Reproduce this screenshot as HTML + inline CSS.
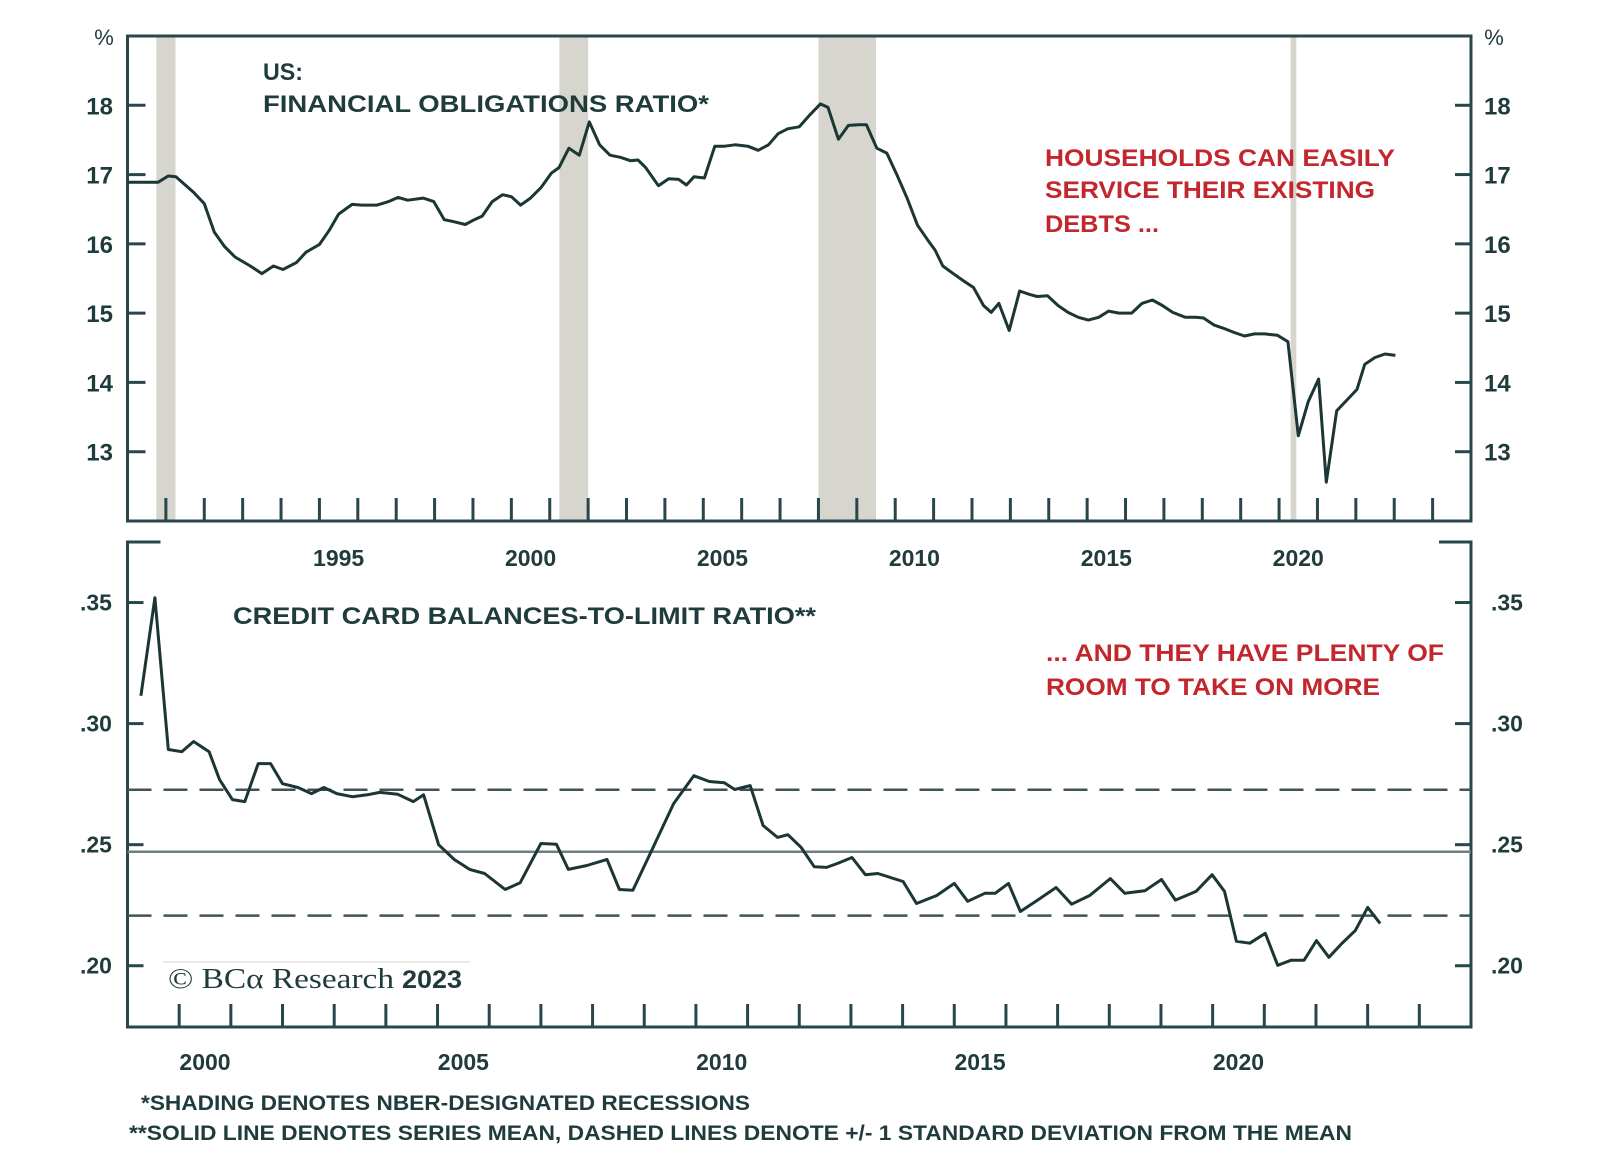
<!DOCTYPE html>
<html><head><meta charset="utf-8"><style>
html,body{margin:0;padding:0;background:#fff;}
svg{display:block;}
text{font-family:"Liberation Sans",sans-serif;font-weight:bold;fill:#1f3b3b;}
.red{fill:#c2272d;}
</style></head><body>
<svg id="chart" width="1600" height="1165" viewBox="0 0 1600 1165" xmlns="http://www.w3.org/2000/svg">
<g id="topPanel"></g>
<g id="botPanel"></g>
<text x="263" y="80" font-size="24" textLength="40" lengthAdjust="spacingAndGlyphs">US:</text>
<text x="263" y="112" font-size="24" textLength="446" lengthAdjust="spacingAndGlyphs">FINANCIAL OBLIGATIONS RATIO*</text>
<text class="red" x="1045" y="166" font-size="24" textLength="350" lengthAdjust="spacingAndGlyphs">HOUSEHOLDS CAN EASILY</text>
<text class="red" x="1045" y="198" font-size="24" textLength="330" lengthAdjust="spacingAndGlyphs">SERVICE THEIR EXISTING</text>
<text class="red" x="1045" y="232" font-size="24" textLength="114" lengthAdjust="spacingAndGlyphs">DEBTS ...</text>
<text x="233" y="624" font-size="24" textLength="583" lengthAdjust="spacingAndGlyphs">CREDIT CARD BALANCES-TO-LIMIT RATIO**</text>
<text class="red" x="1046" y="661" font-size="24" textLength="398" lengthAdjust="spacingAndGlyphs">... AND THEY HAVE PLENTY OF</text>
<text class="red" x="1046" y="695" font-size="24" textLength="334" lengthAdjust="spacingAndGlyphs">ROOM TO TAKE ON MORE</text>
<line x1="163" y1="962" x2="470" y2="962" stroke="#e4e4e4" stroke-width="1.5"/>
<text x="168" y="988" font-size="29" style="font-family:'Liberation Serif',serif;font-weight:normal" textLength="226" lengthAdjust="spacingAndGlyphs">© BCα Research</text>
<text x="402" y="988" font-size="25" textLength="60" lengthAdjust="spacingAndGlyphs">2023</text>
<text x="141" y="1110" font-size="21" textLength="609" lengthAdjust="spacingAndGlyphs">*SHADING DENOTES NBER-DESIGNATED RECESSIONS</text>
<text x="129" y="1140" font-size="21" textLength="1223" lengthAdjust="spacingAndGlyphs">**SOLID LINE DENOTES SERIES MEAN, DASHED LINES DENOTE +/- 1 STANDARD DEVIATION FROM THE MEAN</text>
</svg>
<script>
// ---- top panel data ----
const forTimes=[1990.0,1990.8,1991.06,1991.26,1991.73,1992.0,1992.26,1992.53,1992.8,1993.2,1993.5,1993.8,1994.05,1994.4,1994.65,1995.0,1995.25,1995.5,1995.85,1996.1,1996.5,1996.8,1997.05,1997.3,1997.7,1997.98,1998.25,1998.5,1998.8,1999.04,1999.24,1999.5,1999.77,2000.0,2000.24,2000.5,2000.77,2001.04,2001.24,2001.5,2001.77,2002.03,2002.3,2002.57,2002.84,2003.1,2003.3,2003.5,2003.83,2004.1,2004.36,2004.56,2004.76,2005.03,2005.3,2005.56,2005.83,2006.16,2006.43,2006.7,2006.95,2007.2,2007.5,2007.79,2008.05,2008.25,2008.52,2008.78,2009.05,2009.25,2009.52,2009.78,2010.05,2010.31,2010.58,2010.84,2011.04,2011.24,2011.51,2011.77,2012.04,2012.3,2012.5,2012.7,2012.97,2013.24,2013.5,2013.7,2013.97,2014.24,2014.5,2014.77,2015.03,2015.3,2015.56,2015.83,2016.16,2016.43,2016.7,2016.96,2017.23,2017.56,2017.83,2018.03,2018.3,2018.56,2018.83,2019.1,2019.36,2019.63,2019.96,2020.23,2020.5,2020.76,2021.03,2021.23,2021.5,2021.76,2022.03,2022.23,2022.5,2022.76,2023.03];
const forValues=[16.89,16.89,16.98,16.97,16.74,16.58,16.17,15.96,15.81,15.68,15.57,15.68,15.63,15.73,15.88,15.99,16.19,16.43,16.57,16.56,16.56,16.61,16.67,16.63,16.66,16.61,16.35,16.32,16.28,16.35,16.40,16.61,16.71,16.68,16.56,16.66,16.81,17.02,17.10,17.38,17.28,17.76,17.43,17.28,17.25,17.20,17.21,17.10,16.84,16.94,16.93,16.85,16.97,16.95,17.41,17.41,17.43,17.41,17.35,17.43,17.59,17.66,17.69,17.87,18.02,17.97,17.51,17.71,17.72,17.72,17.38,17.31,16.99,16.66,16.27,16.06,15.91,15.68,15.57,15.47,15.37,15.11,15.01,15.14,14.75,15.32,15.27,15.24,15.25,15.11,15.01,14.94,14.90,14.94,15.03,15.00,15.00,15.14,15.19,15.11,15.01,14.94,14.94,14.93,14.83,14.78,14.72,14.67,14.70,14.70,14.68,14.59,13.23,13.72,14.05,12.56,13.59,13.74,13.90,14.26,14.36,14.41,14.39];
const recStart=[1990.75,2001.25,2008.0,2020.3];
const recEnd=[1991.25,2002.0,2009.5,2020.45];
const topYTicks=[13,14,15,16,17,18];
const topYearLabels=[1995,2000,2005,2010,2015,2020];
// ---- bottom panel data ----
const ccTimes=[1999.26,1999.53,1999.79,2000.05,2000.28,2000.58,2000.78,2001.03,2001.27,2001.53,2001.77,2002.0,2002.3,2002.56,2002.8,2003.05,2003.35,2003.64,2003.88,2004.23,2004.53,2004.73,2005.02,2005.32,2005.62,2005.91,2006.31,2006.6,2007.0,2007.3,2007.53,2007.89,2008.28,2008.52,2008.78,2009.17,2009.57,2009.96,2010.26,2010.55,2010.75,2011.05,2011.3,2011.58,2011.78,2012.04,2012.29,2012.53,2012.73,2013.02,2013.28,2013.52,2014.01,2014.27,2014.66,2015.0,2015.26,2015.59,2015.79,2016.05,2016.28,2016.58,2016.97,2017.27,2017.62,2018.02,2018.3,2018.69,2019.01,2019.28,2019.68,2019.99,2020.23,2020.46,2020.72,2021.02,2021.26,2021.52,2021.77,2022.01,2022.25,2022.5,2022.76,2023.0,2023.24];
const ccValues=[0.3115,0.352,0.2893,0.2884,0.2926,0.2884,0.2769,0.2686,0.2678,0.2835,0.2835,0.2752,0.2736,0.2711,0.2736,0.2711,0.2698,0.2706,0.2716,0.2708,0.2678,0.2706,0.25,0.2439,0.2398,0.2381,0.2315,0.2343,0.2505,0.2502,0.2398,0.2414,0.2439,0.2315,0.2312,0.2488,0.2670,0.2785,0.2761,0.2756,0.2728,0.2744,0.2579,0.2530,0.2541,0.2488,0.2409,0.2406,0.2422,0.2447,0.2376,0.2381,0.2348,0.2257,0.2290,0.2340,0.2266,0.2299,0.2299,0.2340,0.2224,0.2266,0.2323,0.2254,0.2290,0.2360,0.2299,0.2310,0.2356,0.2271,0.2307,0.2376,0.2307,0.2101,0.2093,0.2134,0.2002,0.2023,0.2023,0.2104,0.2035,0.2092,0.2145,0.2241,0.2175];
const ccMean=[0.2471];
const ccBands=[0.2727,0.2207];
const botYTicks=[0.20,0.25,0.30,0.35];
const botYTickLabels=['.20','.25','.30','.35'];
const botYearLabels=[2000,2005,2010,2015,2020];

const NS='http://www.w3.org/2000/svg';
const AX='#28474a', LINE='#1c3535';
function mk(parent,tag,attrs,txt){const e=document.createElementNS(NS,tag);for(const k in attrs)e.setAttribute(k,attrs[k]);if(txt!==undefined)e.textContent=txt;parent.appendChild(e);return e;}
const L=127.5,R=1471;
const tx=t=>L+(t-1990)*(R-L)/35;
const T0=36,T1=521;
const ty=v=>T0+(19-v)*(T1-T0)/7;
const bx=t=>L+(t-1999)*(R-L)/26;
const B0=542,B1=1027;
const by=v=>B1-(v-0.1747)*(B1-B0)/(0.375-0.1747);

const topG=document.getElementById('topPanel');
for(let i=0;i<recStart.length;i++){
  const r=mk(topG,'rect',{x:tx(recStart[i]),y:T0,width:tx(recEnd[i])-tx(recStart[i]),height:T1-T0,fill:'#d6d6ce'});
  
  
}
const fr=mk(topG,'rect',{x:L,y:T0,width:R-L,height:T1-T0,fill:'none',stroke:AX,'stroke-width':3});


for(const v of topYTicks){
  const y=ty(v);
  mk(topG,'line',{x1:L,y1:y,x2:L+18,y2:y,stroke:AX,'stroke-width':3});
  mk(topG,'line',{x1:R-16,y1:y,x2:R,y2:y,stroke:AX,'stroke-width':3});
  const a=mk(topG,'text',{x:113,y:y+9,'font-size':24,'text-anchor':'end'},String(v));
  
  
  const b=mk(topG,'text',{x:1484,y:y+9,'font-size':24},String(v));
  
  
}
const p1=mk(topG,'text',{x:104,y:45,'font-size':22,'text-anchor':'middle',style:'font-weight:normal'},'%');


const p2=mk(topG,'text',{x:1494,y:45,'font-size':22,'text-anchor':'middle',style:'font-weight:normal'},'%');


for(let yr=1991;yr<=2024;yr++){
  mk(topG,'line',{x1:tx(yr),y1:T1,x2:tx(yr),y2:T1-23,stroke:AX,'stroke-width':3});
}
for(const yr of topYearLabels){
  const t=mk(topG,'text',{x:tx(yr+0.5),y:566,'font-size':23,'text-anchor':'middle'},String(yr));
  
  
}
const fl=mk(topG,'polyline',{points:forTimes.map((t,i)=>tx(t).toFixed(1)+','+ty(forValues[i]).toFixed(1)).join(' '),fill:'none',stroke:LINE,'stroke-width':3,'stroke-linejoin':'round'});



const botG=document.getElementById('botPanel');
mk(botG,'path',{d:`M${L+33},${B0} H${L} V${B1} H${R} V${B0} H${R-32}`,fill:'none',stroke:AX,'stroke-width':3});
for(let i=0;i<botYTicks.length;i++){
  const y=by(botYTicks[i]);
  mk(botG,'line',{x1:L,y1:y,x2:L+16,y2:y,stroke:AX,'stroke-width':3});
  mk(botG,'line',{x1:R-16,y1:y,x2:R,y2:y,stroke:AX,'stroke-width':3});
  const a=mk(botG,'text',{x:96,y:y+8,'font-size':23,'text-anchor':'middle'},botYTickLabels[i]);
  
  
  const b=mk(botG,'text',{x:1507,y:y+8,'font-size':23,'text-anchor':'middle'},botYTickLabels[i]);
  
  
}
for(let yr=2000;yr<=2024;yr++){
  mk(botG,'line',{x1:bx(yr),y1:B1,x2:bx(yr),y2:B1-23,stroke:AX,'stroke-width':3});
}
for(const yr of botYearLabels){
  const t=mk(botG,'text',{x:bx(yr+0.5),y:1070,'font-size':23,'text-anchor':'middle'},String(yr));
  
  
}
const ml=mk(botG,'line',{x1:L,y1:by(ccMean[0]),x2:R,y2:by(ccMean[0]),stroke:'#6f807c','stroke-width':2.5});


for(const v of ccBands){
  const d=mk(botG,'line',{x1:L,y1:by(v),x2:R,y2:by(v),stroke:'#3e5553','stroke-width':2.5,'stroke-dasharray':'24 12'});
  
  
}
const cl=mk(botG,'polyline',{points:ccTimes.map((t,i)=>bx(t).toFixed(1)+','+by(ccValues[i]).toFixed(1)).join(' '),fill:'none',stroke:LINE,'stroke-width':3,'stroke-linejoin':'round'});


</script>
</body></html>
